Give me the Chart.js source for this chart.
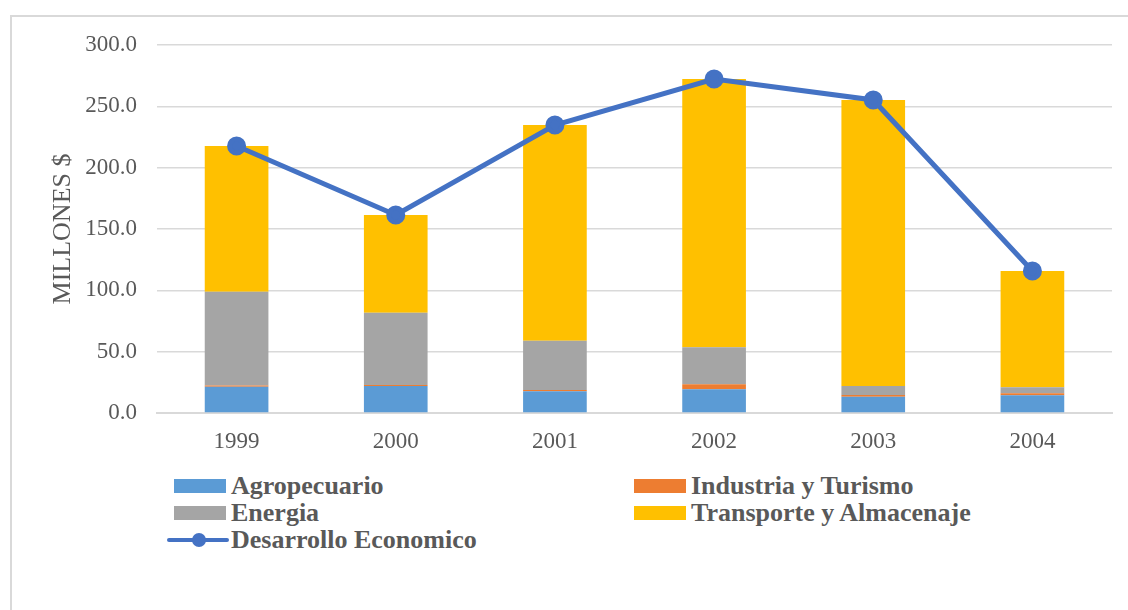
<!DOCTYPE html>
<html>
<head>
<meta charset="utf-8">
<script src="https://cdn.jsdelivr.net/npm/chart.js@4"></script>
<style>
  body { margin: 0; background: #fff; overflow: hidden; }
  #frame {
    position: absolute; left: 10px; top: 15px;
    width: 1140px; height: 640px;
    border: 2px solid #d9d9d9; box-sizing: border-box;
  }
  #wrap { position: absolute; left: 0; top: 0; width: 1128px; height: 460px; }
  #legend {
    position: absolute; left: 0; top: 0;
    font-family: "Liberation Serif", serif; font-weight: bold;
    font-size: 26px; color: #595959;
  }
  .item { position: absolute; white-space: nowrap; height: 26px; line-height: 26px; }
  .sw { position: absolute; top: 6px; width: 52px; height: 14px; }
  .ln { position: absolute; top: 11px; width: 62px; height: 4px; border-radius: 2px; }
  .dot { position: absolute; top: 6px; width: 14px; height: 14px; border-radius: 50%; }
</style>
</head>
<body>
<div id="frame"></div>
<div id="wrap"><canvas id="chart"></canvas></div>
<div id="legend"></div>
<script>
document.addEventListener("DOMContentLoaded", function () {
  var years = ["1999", "2000", "2001", "2002", "2003", "2004"];
  var agropecuario = [21.4, 22.0, 17.7, 19.3, 13.3, 14.4];
  var industria = [1.1, 0.8, 1.0, 4.1, 1.4, 1.6];
  var energia = [76.4, 59.0, 40.2, 30.2, 7.3, 4.9];
  var transporte = [118.8, 79.6, 175.9, 218.7, 233.2, 94.9];
  var desarrollo = [217.7, 161.4, 234.8, 272.3, 255.2, 115.8];

  var grey = "#595959";
  var serif = "'Liberation Serif', 'Times New Roman', serif";

  function bar(label, data, color) {
    return {
      type: "bar",
      label: label,
      data: data,
      backgroundColor: color,
      stack: "sectores",
      order: 1,
      barPercentage: 0.4,
      categoryPercentage: 1,
    };
  }

  var chart = new Chart(document.getElementById("chart"), {
    data: {
      labels: years,
      datasets: [
        {
          type: "line",
          label: "Desarrollo Economico",
          data: desarrollo,
          borderColor: "#4472C4",
          backgroundColor: "#4472C4",
          borderWidth: 5,
          pointRadius: 7,
          pointHoverRadius: 7,
          stack: "total",
          order: 0,
        },
        bar("Agropecuario", agropecuario, "#5B9BD5"),
        bar("Industria y Turismo", industria, "#ED7D31"),
        bar("Energia", energia, "#A5A5A5"),
        bar("Transporte y Almacenaje", transporte, "#FFC000"),
      ],
    },
    options: {
      responsive: true,
      maintainAspectRatio: false,
      animation: false,
      layout: { padding: { left: 48, top: 45, right: 16, bottom: 0 } },
      plugins: {
        legend: { display: false },
        tooltip: { enabled: false },
      },
      scales: {
        x: {
          stacked: true,
          grid: { display: false, drawTicks: false },
          border: { color: "#d9d9d9", width: 2 },
          ticks: { color: grey, font: { family: serif, size: 23 }, padding: 15 },
          afterFit: function (s) { s.height = 47; },
        },
        y: {
          stacked: true,
          min: 0,
          max: 300,
          grid: { color: "#d9d9d9", lineWidth: 1.5, drawTicks: false },
          border: { display: false },
          ticks: {
            stepSize: 50,
            color: grey,
            padding: 20,
            font: { family: serif, size: 23 },
            callback: function (v) { return v.toFixed(1); },
          },
          title: {
            display: true,
            text: "MILLONES $",
            color: grey,
            font: { family: serif, size: 26 },
            padding: 0,
          },
          afterFit: function (s) { s.width = 109; },
        },
      },
    },
  });

  // legend laid out in two columns like the original
  var legend = document.getElementById("legend");
  var spots = [
    { i: 1, x: 174, y: 473 },
    { i: 2, x: 634, y: 473 },
    { i: 3, x: 174, y: 500 },
    { i: 4, x: 634, y: 500 },
    { i: 0, x: 167, y: 527 },
  ];
  spots.forEach(function (s) {
    var ds = chart.data.datasets[s.i];
    var el = document.createElement("div");
    el.className = "item";
    el.style.left = s.x + "px";
    el.style.top = s.y + "px";
    var html;
    if (ds.type === "line") {
      html = '<span class="ln" style="left:0;background:' + ds.borderColor + '"></span>' +
        '<span class="dot" style="left:25px;background:' + ds.borderColor + '"></span>' +
        '<span style="padding-left:64px">' + ds.label + "</span>";
    } else {
      html = '<span class="sw" style="left:0;background:' + ds.backgroundColor + '"></span>' +
        '<span style="padding-left:57px">' + ds.label + "</span>";
    }
    el.innerHTML = html;
    legend.appendChild(el);
  });
});
</script>
</body>
</html>
